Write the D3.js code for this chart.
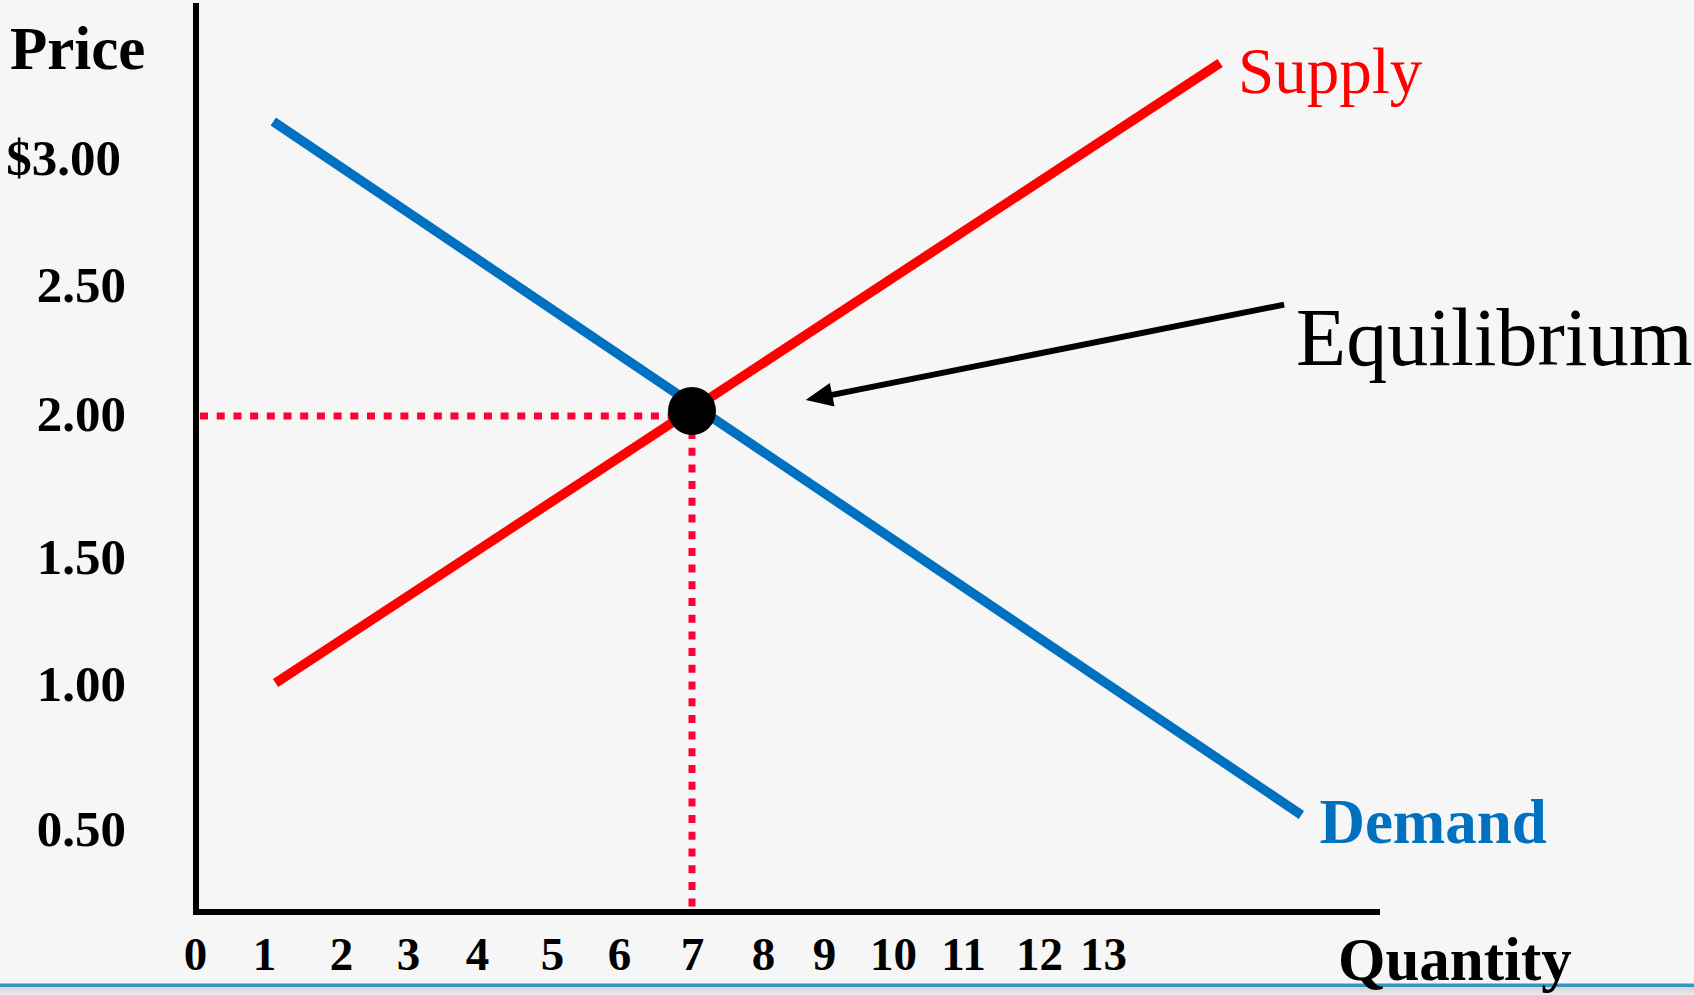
<!DOCTYPE html>
<html>
<head>
<meta charset="utf-8">
<script src="https://cdn.jsdelivr.net/npm/d3@7"></script>
<style>
  html, body { margin: 0; padding: 0; background: #f6f6f6; }
  svg { display: block; }
  text { font-family: "Liberation Serif", "DejaVu Serif", serif; }
</style>
</head>
<body>
<svg id="chart" width="1694" height="995"></svg>
<script>
// ---- data -------------------------------------------------------------
const priceTicks = [0.5, 1, 1.5, 2, 2.5, 3];
const priceLabels = ["0.50", "1.00", "1.50", "2.00", "2.50", "$3.00"];
const quantityTicks = [0, 1, 2, 3, 4, 5, 6, 7, 8, 9, 10, 11, 12, 13];

const supplyQ = [1.15, 14.83];
const supplyP = [1.0, 3.37];
const demandQ = [1.12, 16.1];
const demandP = [3.14, 0.545];

const equilibriumQ = 7;
const equilibriumP = 2;

// annotation arrow (from label towards the equilibrium point), data units
const arrowQ = [15.83, 8.7];
const arrowP = [2.42, 2.05];

// ---- layout -----------------------------------------------------------
const W = 1694, H = 995;
const axisX = 196, axisTop = 3, axisY = 912, axisRight = 1380;
// hand-spaced tick positions along each axis
const quantityTickX = [195, 264, 341, 408, 477, 552, 619, 692, 763, 824, 893, 963, 1039, 1103];
const priceTickY = [828, 683, 556, 413, 284, 157];

const x = d3.scaleLinear().domain(quantityTicks).range(quantityTickX);
const y = d3.scaleLinear().domain(priceTicks).range(priceTickY);

const svg = d3.select("#chart");

svg.append("rect").attr("width", W).attr("height", H).attr("fill", "#f6f6f6");

// footer rule of the slide
const grad = svg.append("defs").append("linearGradient")
  .attr("id", "footShade").attr("x1", 0).attr("y1", 0).attr("x2", 0).attr("y2", 1);
grad.append("stop").attr("offset", "0%").attr("stop-color", "#d4d4d4");
grad.append("stop").attr("offset", "100%").attr("stop-color", "#ececec");
svg.append("rect").attr("x", 0).attr("y", 987).attr("width", W).attr("height", 8)
  .attr("fill", "url(#footShade)");
svg.append("rect").attr("x", 0).attr("y", 983.5).attr("width", W).attr("height", 3.5)
  .attr("fill", "#3a94c2");

// ---- axes -------------------------------------------------------------
const yAxis = d3.axisLeft(y)
  .tickValues(priceTicks)
  .tickFormat((d, i) => priceLabels[i])
  .tickSize(0)
  .tickPadding(70);

const gy = svg.append("g").attr("transform", `translate(${axisX},0)`).call(yAxis);
gy.select(".domain").remove();
gy.selectAll("text")
  .attr("dy", "0.34em")
  .attr("dx", (d) => d === 3 ? -5 : 0)
  .style("font-family", '"Liberation Serif", serif')
  .style("font-weight", "bold")
  .style("font-size", "51px")
  .attr("fill", "#000");

const xAxis = d3.axisBottom(x)
  .tickValues(quantityTicks)
  .tickFormat(d3.format("d"))
  .tickSize(0)
  .tickPadding(25);

const gx = svg.append("g").attr("transform", `translate(0,${axisY})`).call(xAxis);
gx.select(".domain").remove();
gx.selectAll("text")
  .style("font-family", '"Liberation Serif", serif')
  .style("font-weight", "bold")
  .style("font-size", "47px")
  .attr("fill", "#000");

// axis lines
svg.append("path")
  .attr("d", `M${axisX},${axisTop}V${axisY}H${axisRight}`)
  .attr("fill", "none")
  .attr("stroke", "#000")
  .attr("stroke-width", 6)
  .attr("stroke-linejoin", "miter");

// axis titles
svg.append("text")
  .attr("x", 10).attr("y", 69)
  .style("font-weight", "bold").style("font-size", "61px")
  .text("Price");

svg.append("text")
  .attr("x", 1338).attr("y", 980)
  .style("font-weight", "bold").style("font-size", "61px")
  .text("Quantity");

// ---- equilibrium guides -----------------------------------------------
const dotted = "#ff0036";
svg.append("line")
  .attr("x1", x(0) + 5).attr("x2", x(equilibriumQ))
  .attr("y1", y(equilibriumP) + 3).attr("y2", y(equilibriumP) + 3)
  .attr("stroke", dotted).attr("stroke-width", 7)
  .attr("stroke-dasharray", "8,8.7");

svg.append("line")
  .attr("x1", x(equilibriumQ)).attr("x2", x(equilibriumQ))
  .attr("y1", y(equilibriumP) + 18).attr("y2", axisY - 3)
  .attr("stroke", dotted).attr("stroke-width", 7)
  .attr("stroke-dasharray", "8,8.7");

// ---- curves -----------------------------------------------------------
const line = d3.line().x(d => x(d[0])).y(d => y(d[1]));

svg.append("path")
  .datum(d3.zip(supplyQ, supplyP))
  .attr("d", line)
  .attr("fill", "none")
  .attr("stroke", "#ff0000")
  .attr("stroke-width", 9.5);

svg.append("path")
  .datum(d3.zip(demandQ, demandP))
  .attr("d", line)
  .attr("fill", "none")
  .attr("stroke", "#0070c0")
  .attr("stroke-width", 9.5);

svg.append("circle")
  .attr("cx", x(equilibriumQ)).attr("cy", y(equilibriumP) - 2)
  .attr("r", 24)
  .attr("fill", "#000");

// ---- curve labels -----------------------------------------------------
const sEnd = [x(supplyQ[1]), y(supplyP[1])];
svg.append("text")
  .attr("x", sEnd[0] + 18).attr("y", sEnd[1] + 30)
  .attr("fill", "#ff0000")
  .style("font-size", "65px")
  .text("Supply");

const dEnd = [x(demandQ[1]), y(demandP[1])];
svg.append("text")
  .attr("x", dEnd[0] + 18).attr("y", dEnd[1] + 28)
  .attr("fill", "#0070c0")
  .style("font-weight", "bold")
  .style("font-size", "63px")
  .text("Demand");

// ---- equilibrium annotation -------------------------------------------
const a0 = [x(arrowQ[0]), y(arrowP[0])];
const a1 = [x(arrowQ[1]), y(arrowP[1])];
const ang = Math.atan2(a1[1] - a0[1], a1[0] - a0[0]);
const headLen = 27, headHalf = 12;
const base = [a1[0] - headLen * Math.cos(ang), a1[1] - headLen * Math.sin(ang)];

svg.append("line")
  .attr("x1", a0[0]).attr("y1", a0[1])
  .attr("x2", base[0] + 4 * Math.cos(ang)).attr("y2", base[1] + 4 * Math.sin(ang))
  .attr("stroke", "#000").attr("stroke-width", 6);

svg.append("path")
  .attr("d", d3.line()([
    a1,
    [base[0] + headHalf * Math.sin(ang), base[1] - headHalf * Math.cos(ang)],
    [base[0] - headHalf * Math.sin(ang), base[1] + headHalf * Math.cos(ang)]
  ]) + "Z")
  .attr("fill", "#000");

svg.append("text")
  .attr("x", a0[0] + 12).attr("y", a0[1] + 60)
  .attr("fill", "#000")
  .style("font-size", "82px")
  .text("Equilibrium");
</script>
</body>
</html>
